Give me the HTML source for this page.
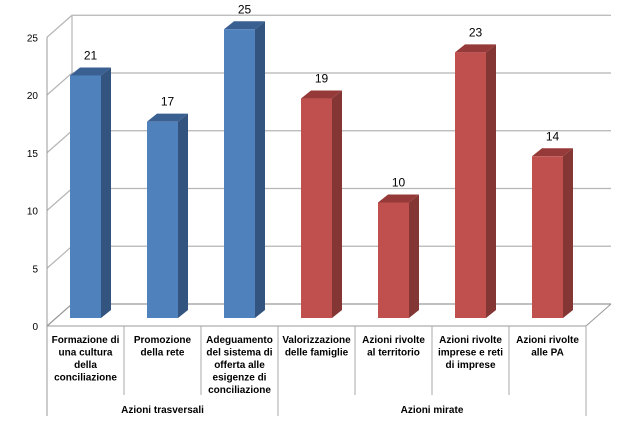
<!DOCTYPE html>
<html><head><meta charset="utf-8"><style>
body{margin:0;background:#fff;}
svg text{font-family:"Liberation Sans",sans-serif;}
</style></head><body>
<svg width="624" height="416" viewBox="0 0 624 416">
<g id="grid"></g>
<g id="yaxis"></g>
<g id="bars"></g>
<g id="xaxis"></g>
</svg>
<script>
const categories=[["Formazione di","una cultura","della","conciliazione"],["Promozione","della rete"],["Adeguamento","del sistema di","offerta alle","esigenze di","conciliazione"],["Valorizzazione","delle famiglie"],["Azioni rivolte","al territorio"],["Azioni rivolte","imprese e reti","di imprese"],["Azioni rivolte","alle PA"]];
const values=[21,17,25,19,10,23,14];
const groupIndex=[0,0,0,1,1,1,1];
const groups=["Azioni trasversali","Azioni mirate"];
const yTicks=[0,5,10,15,20,25];
const NS="http://www.w3.org/2000/svg";
function mk(p,t,a){const e=document.createElementNS(NS,t);for(const k in a)e.setAttribute(k,a[k]);p.appendChild(e);return e;}
const X0=47,X1=586,FY=326,DX=25,DY=-22,UNIT=11.55;
const yFront=v=>FY-v*UNIT;
const yBack=v=>FY+DY-v*UNIT;
const n=categories.length,cw=(X1-X0)/n;
const xC=i=>X0+cw*(i+0.5);
const grid=document.getElementById('grid'),ya=document.getElementById('yaxis'),bars=document.getElementById('bars'),xa=document.getElementById('xaxis');
// walls
let l=mk(grid,'line',{x1:X0+DX,y1:yBack(25),x2:X0+DX,y2:yBack(0),stroke:'#aaa'});

yTicks.forEach(t=>{
 let g=mk(grid,'polyline',{points:`${X0},${yFront(t)} ${X0+DX},${yBack(t)} ${X1+DX},${yBack(t)}`,fill:'none',stroke:t===0?'#999':'#b5b5b5','stroke-width':1.2});
 
 let tx=mk(ya,'text',{x:38,y:yFront(t)+4,'font-size':10,'text-anchor':'end',fill:'#000'});tx.textContent=t;
 
});
let fl=mk(grid,'line',{x1:X1,y1:FY,x2:X1+DX,y2:FY+DY,stroke:'#999'});

let axl=mk(ya,'line',{x1:X0,y1:yFront(25),x2:X0,y2:416,stroke:'#999'});

let fr=mk(xa,'line',{x1:X0,y1:FY,x2:X1,y2:FY,stroke:'#999'});

// bars
const base=318,bw=31,ox=10,oy=-8;
values.forEach((v,i)=>{
 const blue=groupIndex[i]===0;
 const front=blue?'#4f81bd':'#c0504d',side=blue?'#345480':'#843634',top=blue?'#3a6091':'#953a38';
 const x=xC(i)-bw/2,yt=base-v*UNIT;
 const g=mk(bars,'g',{});
 mk(g,'polygon',{points:`${x+bw},${yt} ${x+bw+ox},${yt+oy} ${x+bw+ox},${base+oy} ${x+bw},${base}`,fill:side});
 mk(g,'polygon',{points:`${x},${yt} ${x+ox},${yt+oy} ${x+bw+ox},${yt+oy} ${x+bw},${yt}`,fill:top});
 mk(g,'rect',{x:x,y:yt,width:bw,height:v*UNIT,fill:front});
 let lb=mk(bars,'text',{x:xC(i)+5,y:yt-16,'font-size':12,'text-anchor':'middle',fill:'#000'});lb.textContent=v;
 
});
// category labels
categories.forEach((c,i)=>{
 if(i>0){const gb=groupIndex[i]!==groupIndex[i-1];
  let d=mk(xa,'line',{x1:X0+cw*i,y1:FY,x2:X0+cw*i,y2:gb?416:395,stroke:'#aaa'});
  }
 c.forEach((s,j)=>{let t=mk(xa,'text',{x:xC(i),y:343+j*12.5,'font-size':10,'font-weight':'bold','text-anchor':'middle',fill:'#000'});t.textContent=s;
  });
});
let ed=mk(xa,'line',{x1:X1,y1:FY,x2:X1,y2:416,stroke:'#aaa'});

groups.forEach((g,k)=>{
 const idx=groupIndex.map((gi,i)=>gi===k?i:-1).filter(i=>i>=0);
 const cx=(xC(idx[0])+xC(idx[idx.length-1]))/2;
 let t=mk(xa,'text',{x:cx,y:413,'font-size':10,'font-weight':'bold','text-anchor':'middle',fill:'#000'});t.textContent=g;
 
});
</script>
</body></html>
